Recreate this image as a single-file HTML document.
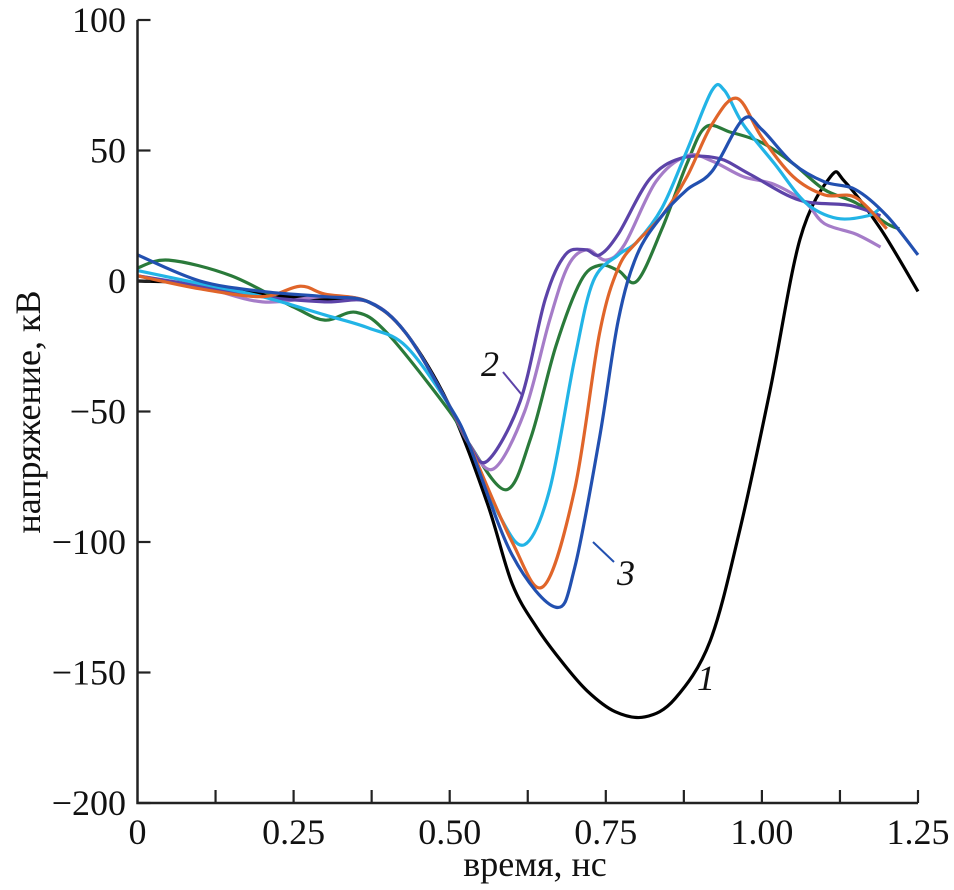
<!DOCTYPE html>
<html><head><meta charset="utf-8"><style>
body{margin:0;background:#fff;width:954px;height:890px;overflow:hidden}
svg{display:block}
text{font-family:"Liberation Serif",serif;fill:#111}
</style></head><body>
<svg id="chart" width="954" height="890" viewBox="0 0 954 890"></svg>
<script>
const xTicks=[0,0.25,0.5,0.75,1.0,1.25];
const xTickLabels=["0","0.25","0.50","0.75","1.00","1.25"];
const yTicks=[100,50,0,-50,-100,-150,-200];
const yTickLabels=["100","50","0","\u221250","\u2212100","\u2212150","\u2212200"];
const blackX=[0,0.1,0.2,0.3,0.37,0.43,0.5,0.56,0.6,0.64,0.68,0.72,0.765,0.813,0.861,0.917,0.965,1.013,1.061,1.11,1.133,1.19,1.25];
const blackY=[0,-1,-5,-7,-8,-20,-48,-85,-116,-133,-146,-157,-165,-167,-160,-138,-95,-42,16,40,38,20,-4];
const purpleX=[0,0.1,0.2,0.3,0.37,0.43,0.5,0.53,0.56,0.613,0.653,0.685,0.717,0.74,0.77,0.82,0.87,0.93,0.98,1.06,1.14,1.19];
const purpleY=[2,-2,-6,-8,-8,-20,-48,-62,-69,-46,-7,10,12,10,18,39,47,47,41,31,29,25];
const lilacX=[0,0.1,0.2,0.3,0.37,0.43,0.5,0.53,0.57,0.62,0.66,0.69,0.72,0.75,0.78,0.83,0.88,0.92,0.97,1.02,1.07,1.1,1.15,1.19];
const lilacY=[2,-2,-8,-6,-8,-20,-48,-62,-72,-50,-15,6,12,8,14,38,48,46,40,37,30,22,18,13];
const greenX=[0,0.05,0.15,0.25,0.3,0.35,0.4,0.5,0.53,0.59,0.63,0.67,0.71,0.74,0.77,0.8,0.84,0.88,0.91,0.95,1.0,1.05,1.1,1.15,1.2,1.22];
const greenY=[5,8,2,-10,-15,-12,-20,-50,-62,-80,-60,-25,0,6,4,0,20,45,59,57,53,45,35,30,22,20];
const cyanX=[0,0.1,0.2,0.3,0.37,0.43,0.5,0.53,0.58,0.62,0.66,0.7,0.73,0.77,0.8,0.84,0.88,0.92,0.94,0.97,1.02,1.07,1.12,1.17,1.19];
const cyanY=[4,-1,-6,-13,-18,-25,-48,-62,-90,-101,-80,-30,0,10,15,28,50,73,73,60,45,30,24,25,28];
const orangeX=[0,0.1,0.2,0.26,0.3,0.37,0.43,0.5,0.53,0.6,0.65,0.7,0.74,0.77,0.8,0.84,0.88,0.92,0.96,1.0,1.05,1.1,1.15,1.2];
const orangeY=[2,-3,-6,-2,-5,-8,-20,-48,-62,-100,-117,-80,-20,5,15,25,40,60,70,55,40,33,32,20];
const blueX=[0,0.1,0.2,0.3,0.37,0.43,0.5,0.53,0.6,0.67,0.7,0.74,0.77,0.8,0.84,0.88,0.92,0.97,1.0,1.05,1.1,1.15,1.2,1.25];
const blueY=[10,0,-4,-6,-8,-20,-48,-62,-105,-125,-110,-60,-15,10,25,35,42,62,58,45,38,35,25,10];

const NS="http://www.w3.org/2000/svg";
const svg=document.getElementById('chart');
const X0=137.5,X1=918,Y0=803,Y1=20;
function sx(v){return X0+(v-0)/(1.25)*(X1-X0);}
function sy(v){return Y0-(v+200)/300*(Y0-Y1);}
function mk(tag,attrs){const e=document.createElementNS(NS,tag);for(const k in attrs)e.setAttribute(k,attrs[k]);svg.appendChild(e);return e;}
function smooth(xs,ys){const p=xs.map((x,i)=>[sx(x),sy(ys[i])]);let d=`M${p[0][0]},${p[0][1]}`;
for(let i=0;i<p.length-1;i++){const a=p[Math.max(0,i-1)],b=p[i],c=p[i+1],e=p[Math.min(p.length-1,i+2)];
d+=` C${b[0]+(c[0]-a[0])/6},${b[1]+(c[1]-a[1])/6} ${c[0]-(e[0]-b[0])/6},${c[1]-(e[1]-b[1])/6} ${c[0]},${c[1]}`;}return d;}

const series=[[blackX,blackY,"#000","series-1"],[greenX,greenY,"#2a7a3a","series-green"],[lilacX,lilacY,"#a57cc8","series-lilac"],[purpleX,purpleY,"#5c43a8","series-2"],[cyanX,cyanY,"#22b4e6","series-cyan"],[orangeX,orangeY,"#e0652a","series-orange"],[blueX,blueY,"#2250b0","series-3"]];
series.forEach(s=>{const e=mk('path',{d:smooth(s[0],s[1]),fill:'none',stroke:s[2],'stroke-width':3.2,'stroke-linejoin':'round'});

});

let ax=mk('path',{d:`M${X0},${Y1} V${Y0} H${X1}`,fill:'none',stroke:'#222','stroke-width':2.5});


for(let i=1;i<=10;i++){const v=i*0.125;const t=mk('line',{x1:sx(v),x2:sx(v),y1:Y0,y2:Y0-13,stroke:'#222','stroke-width':2.2});

}
xTicks.forEach((v,i)=>{const t=mk('text',{x:sx(v),y:844,'font-size':36,'text-anchor':'middle'});t.textContent=xTickLabels[i];

});
yTicks.forEach((v,i)=>{const l=mk('line',{x1:X0,x2:X0+13,y1:sy(v),y2:sy(v),stroke:'#222','stroke-width':2.2});


const t=mk('text',{x:126,y:sy(v)+12,'font-size':36,'text-anchor':'end'});t.textContent=yTickLabels[i];

});
let xl=mk('text',{x:535,y:876,'font-size':36,'text-anchor':'middle'});xl.textContent="время, нс";


let yl=mk('text',{x:0,y:0,'font-size':36,'text-anchor':'middle',transform:'translate(40,412) rotate(-90)'});yl.textContent="напряжение, кВ";


[["2",490,376,"label-2",[503,372,522,395,"#5c43a8"]],["3",626,585,"label-3",[593,542,614,562,"#2250b0"]],["1",706,690,"label-1",null]].forEach(a=>{
const t=mk('text',{x:a[1],y:a[2],'font-size':36,'font-style':'italic','text-anchor':'middle'});t.textContent=a[0];


if(a[4]){const l=mk('line',{x1:a[4][0],y1:a[4][1],x2:a[4][2],y2:a[4][3],stroke:a[4][4],'stroke-width':2});

}});
</script>
</body></html>
